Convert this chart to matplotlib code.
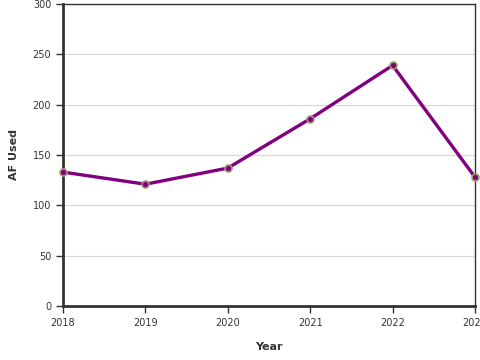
import matplotlib
matplotlib.use("Agg")
import matplotlib.pyplot as plt

years = [2018, 2019, 2020, 2021, 2022, 2023]
af_used = [133, 121, 137, 186, 239, 128]
y_ticks = [0, 50, 100, 150, 200, 250, 300]

plt.rcParams['font.family'] = 'DejaVu Sans'

fig = plt.figure(figsize=(4.8, 3.6), dpi=100)
ax = fig.add_axes([63 / 480, 54 / 360, 412 / 480, 302 / 360])

ax.plot(years, af_used, color='#800080', linewidth=2.4, zorder=3,
        marker='o', markersize=5, markerfacecolor='#800080',
        markeredgecolor='#a09a70', markeredgewidth=1.2, clip_on=False)

ax.set_xlim(2018, 2023)
ax.set_ylim(0, 300)
ax.set_xticks(years)
ax.set_yticks(y_ticks)
ax.tick_params(labelsize=7, colors='#333333', length=5, width=1)
ax.yaxis.grid(True, color='#d9d9d9', linewidth=0.9)
ax.set_axisbelow(True)

for side in ['left', 'bottom']:
    ax.spines[side].set_linewidth(2)
    ax.spines[side].set_color('#333333')
for side in ['top', 'right']:
    ax.spines[side].set_linewidth(1)
    ax.spines[side].set_color('#333333')

ax.set_xlabel('Year', fontsize=8, fontweight='bold', color='#333333', va='center')
ax.set_ylabel('AF Used', fontsize=8, fontweight='bold', color='#333333', va='center')
ax.xaxis.set_label_coords(0.5, (306 - 347) / 302)
ax.yaxis.set_label_coords((14 - 63) / 412, 0.5)

fig.savefig('out.png', dpi=100)
